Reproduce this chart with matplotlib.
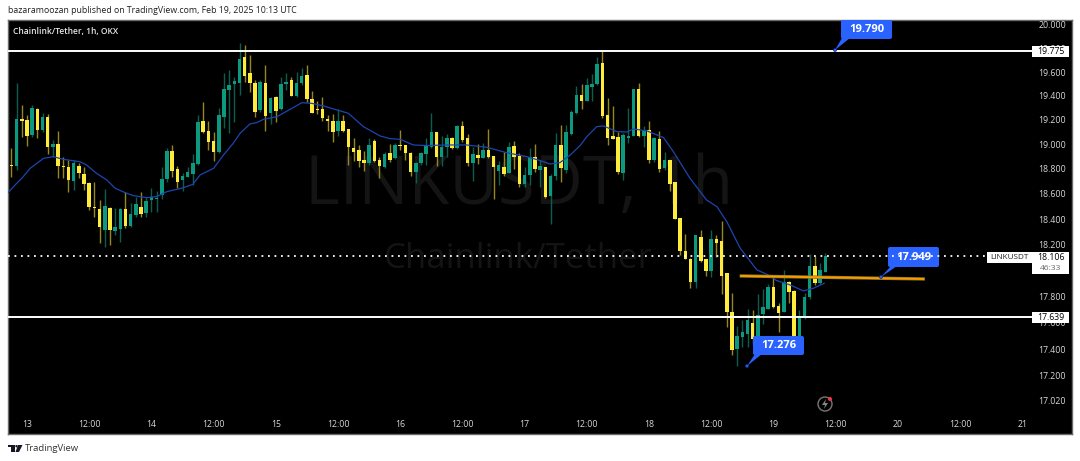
import matplotlib
matplotlib.use('Agg')
import matplotlib.pyplot as plt
from matplotlib.patches import FancyBboxPatch, Polygon, Rectangle, Circle
from matplotlib.transforms import Affine2D, blended_transform_factory

# hourly candles, first one is Feb 12 21:00
# G = up candle, Y = down candle
first_hour = -3
candle_colors = list(
    'YGYYGYGYGYYYGYYYYYGYGGYGGYGGGGGYYGGGGYYYGGGGGYYYGYGYGGYG'
    'GYYYYYYGYYYYYGYYGYGYYYGGGGYGGYGYYGYGYYGYGYYGGYGYGGYGGG'
    'YGGGYYYYGGGYGYGYGYYYYYGYYGYYYYGGGYGGGYYGYYGGGYGG'
)
highs = [18.968,19.505,19.324,19.241,19.324,19.296,19.260,19.249,19.036,19.110,18.900,18.873,18.873,18.846,18.819,18.698,18.698,18.551,18.636,18.492,18.485,18.485,18.618,18.524,18.578,18.618,18.578,18.650,18.623,18.819,18.968,18.995,18.827,18.771,18.819,18.921,19.241,19.346,19.192,19.104,19.296,19.589,19.617,19.561,19.843,19.829,19.744,19.533,19.533,19.659,19.393,19.401,19.555,19.595,19.561,19.598,
         19.637,19.659,19.441,19.360,19.387,19.241,19.249,19.288,19.241,19.123,19.049,18.995,18.949,19.049,19.041,18.895,18.940,19.000,19.009,19.118,18.995,18.940,18.859,18.940,19.049,19.255,19.099,19.071,19.085,19.058,19.159,19.192,19.082,18.981,19.003,19.009,19.126,18.905,18.868,18.940,19.022,19.028,18.927,18.819,18.968,19.003,18.873,18.819,18.760,19.096,19.159,19.159,19.283,19.483,
         19.499,19.547,19.581,19.730,19.786,19.379,19.316,19.104,19.090,19.302,19.455,19.505,19.151,19.194,19.063,19.110,18.940,18.873,18.698,18.406,18.282,18.092,18.274,18.314,18.087,18.314,18.274,18.387,17.981,17.822,17.573,17.619,17.703,17.695,17.817,17.858,17.894,17.937,17.746,18.002,17.917,17.847,17.695,17.827,18.123,18.113,18.053,18.131]
body_tops = [18.832,19.208,19.208,19.197,19.296,19.290,19.222,19.227,19.003,19.003,18.827,18.819,18.846,18.824,18.760,18.690,18.495,18.482,18.500,18.487,18.335,18.482,18.482,18.440,18.519,18.495,18.543,18.573,18.570,18.717,18.946,18.949,18.800,18.744,18.773,18.846,19.186,19.192,19.110,19.031,19.241,19.457,19.491,19.525,19.707,19.727,19.595,19.505,19.519,19.511,19.379,19.390,19.496,19.519,19.533,19.505,
             19.567,19.575,19.376,19.290,19.290,19.208,19.194,19.192,19.192,19.123,18.971,18.952,18.870,18.998,19.025,18.873,18.924,18.930,18.995,18.995,18.992,18.932,18.851,18.930,18.998,19.099,19.099,18.981,19.055,19.049,19.151,19.151,19.049,18.919,18.913,18.954,18.954,18.905,18.832,18.816,18.981,18.987,18.908,18.749,18.900,18.900,18.824,18.816,18.744,18.992,18.995,19.104,19.269,19.404,
             19.407,19.491,19.496,19.668,19.673,19.241,19.066,19.061,19.077,19.071,19.455,19.455,19.110,19.115,19.049,19.044,18.870,18.870,18.698,18.406,18.150,18.087,18.274,18.258,18.087,18.243,18.243,18.230,17.981,17.680,17.498,17.528,17.619,17.599,17.655,17.720,17.871,17.871,17.725,17.912,17.912,17.842,17.644,17.794,18.032,18.032,18.002,18.106]
body_bottoms = [18.827,18.827,19.192,19.072,19.077,19.118,19.118,18.976,18.976,18.821,18.819,18.711,18.703,18.765,18.679,18.498,18.490,18.335,18.316,18.314,18.306,18.324,18.345,18.345,18.432,18.440,18.450,18.551,18.559,18.591,18.717,18.784,18.698,18.711,18.738,18.760,18.838,19.104,19.017,18.940,18.940,19.227,19.449,19.499,19.511,19.567,19.505,19.269,19.283,19.233,19.255,19.277,19.290,19.499,19.401,19.398,
                19.505,19.371,19.260,19.283,19.216,19.194,19.104,19.110,19.110,18.976,18.938,18.865,18.851,18.851,18.865,18.824,18.816,18.876,18.889,18.990,18.930,18.779,18.779,18.846,18.924,18.981,18.897,18.897,18.979,18.968,18.971,19.039,18.851,18.846,18.889,18.889,18.895,18.819,18.784,18.760,18.765,18.900,18.682,18.682,18.749,18.797,18.792,18.578,18.586,18.744,18.808,18.792,19.085,19.255,
                19.354,19.360,19.477,19.496,19.233,19.055,19.047,18.773,18.771,19.049,19.071,19.069,19.071,18.870,18.870,18.800,18.805,18.679,18.400,18.150,18.090,17.907,17.907,18.074,17.994,17.994,18.214,17.955,17.682,17.391,17.401,17.491,17.513,17.474,17.489,17.667,17.703,17.718,17.675,17.682,17.832,17.456,17.456,17.649,17.791,17.904,17.899,17.989]
lows = [18.733,18.792,19.063,18.990,19.063,19.055,19.104,18.921,18.900,18.725,18.725,18.618,18.631,18.725,18.631,18.472,18.419,18.209,18.183,18.196,18.274,18.222,18.327,18.340,18.419,18.419,18.419,18.458,18.453,18.559,18.698,18.738,18.645,18.626,18.733,18.671,18.832,19.090,18.954,18.865,18.927,19.137,19.096,19.186,19.407,19.519,19.429,19.227,19.269,19.112,19.164,19.186,19.283,19.449,19.398,19.387,
        19.491,19.351,19.255,19.249,19.194,19.112,19.017,19.071,19.104,18.832,18.868,18.819,18.787,18.832,18.859,18.730,18.811,18.859,18.878,18.954,18.873,18.746,18.690,18.832,18.832,18.968,18.824,18.824,18.900,18.962,18.962,19.022,18.824,18.706,18.840,18.886,18.886,18.556,18.671,18.746,18.765,18.800,18.653,18.653,18.671,18.779,18.653,18.570,18.361,18.711,18.698,18.765,19.077,19.249,
        19.290,19.360,19.357,19.491,19.213,18.995,19.044,18.760,18.711,19.009,19.069,19.063,18.976,18.846,18.859,18.773,18.792,18.626,18.398,18.118,18.085,17.860,17.865,18.066,17.955,17.950,18.105,17.817,17.568,17.356,17.276,17.414,17.414,17.438,17.481,17.589,17.700,17.713,17.531,17.677,17.751,17.451,17.443,17.624,17.776,17.886,17.894,17.989]

# EMA-looking line, read at hours since Feb 13 00:00
ma_hours = [-3.6,-2.3,-1.0,0.6,1.9,3.2,5.1,7.0,10.2,11.5,13.4,15.4,17.0,18.9,20.5,23.1,25.0,27.0,29.8,32.0,33.4,36.0,37.9,39.8,41.1,43.0,44.3,45.6,48.2,51.1,53.0,54.9,57.2,59.8,62.0,64.9,68.1,70.0,72.0,74.5,77.1,81.0,84.8,88.7,92.5,96.4,99.0,100.9,102.8,104.8,106.7,108.0,109.9,111.2,113.8,115.7,117.0,119.6,122.8,124.7,127.9,131.1,133.1,135.0,137.6,140.8,143.0,144.6,147.2,149.8,151.7,153.8]
ma_values = [18.612,18.671,18.725,18.805,18.846,18.886,18.900,18.878,18.859,18.832,18.765,18.711,18.645,18.610,18.586,18.570,18.578,18.618,18.645,18.676,18.752,18.805,18.913,19.009,19.090,19.167,19.178,19.205,19.227,19.296,19.343,19.338,19.316,19.283,19.255,19.145,19.069,19.047,19.041,18.995,18.990,18.995,18.995,18.976,18.932,18.900,18.868,18.840,18.851,18.913,18.990,19.063,19.145,19.151,19.104,19.101,19.126,19.110,19.055,18.940,18.725,18.551,18.498,18.379,18.170,18.002,17.963,17.920,17.886,17.840,17.860,17.899]

# axis labels
price_ticks = [20.0,19.8,19.6,19.4,19.2,19.0,18.8,18.6,18.4,18.2,17.8,17.6,17.4,17.2,17.02]
price_labels = ['20.000','19.800','19.600','19.400','19.200','19.000','18.800','18.600','18.400','18.200','17.800','17.600','17.400','17.200','17.020']
time_ticks = [0,12,24,36,48,60,72,84,96,108,120,132,144,156,168,180,192]
time_labels = ['13','12:00','14','12:00','15','12:00','16','12:00','17','12:00','18','12:00','19','12:00','20','12:00','21']

# drawing tools
levels = [19.775, 17.639]
last_price = 18.106
trend_hours = [137.8, 172.9]
trend_prices = [17.955, 17.932]

UP = '#0b9a80'
DOWN = '#ffeb3b'
UP_WICK = '#0a5e50'
DOWN_WICK = '#96861f'
BLUE = '#2962ff'

fig = plt.figure(figsize=(10.8, 4.61), dpi=100, facecolor='white')
plt.rcParams['font.family'] = ['Open Sans', 'DejaVu Sans']
ax = fig.add_axes([8/1080, 1-434/461, (1072-8)/1080, (434-20)/461])
ax.set_facecolor('black')
ax.set_axisbelow(False)
for s in ax.spines.values():
    s.set_color('#6a6a6a')
    s.set_linewidth(1)

# pixel positions for the overlay stuff, y counted from the top
pix = Affine2D().scale(1, -1).translate(0, 461)

ax.text(519, 186, 'LINKUSDT, 1h', transform=pix, color='#141414', fontsize=48,
        ha='center', va='center', zorder=1)
ax.text(518, 259, 'Chainlink/Tether', transform=pix, color='#141414', fontsize=25,
        ha='center', va='center', zorder=1)

times = [first_hour + i for i in range(len(highs))]
for t, col, h, top, bot, lo in zip(times, candle_colors, highs, body_tops, body_bottoms, lows):
    body = UP if col == 'G' else DOWN
    wick = UP_WICK if col == 'G' else DOWN_WICK
    ax.vlines(t, lo, h, color=wick, lw=1, zorder=3)
    ax.bar(t, top - bot, bottom=bot, width=0.68, color=body, linewidth=0, zorder=4)

ax.plot(ma_hours, ma_values, color='#1c45b0', lw=0.9, zorder=5)

ax.set_yscale('log')
ax.set_ylim(16.776, 20.043)
ax.set_xlim(-3.666, 201.6)
ax.set_yticks(price_ticks, price_labels)
ax.minorticks_off()
ax.set_xticks(time_ticks, time_labels)
ax.yaxis.tick_right()
ax.tick_params(axis='y', length=0, pad=-24, labelsize=6.3, labelcolor='#d8d8d8')
ax.tick_params(axis='x', length=0, pad=-10, labelsize=6.3, labelcolor='#d8d8d8')

# horizontal levels stop at the price scale
to_right = blended_transform_factory(pix, ax.transData)
for lv in levels:
    ax.plot([8, 1032], [lv, lv], transform=to_right, color='white', lw=1.4, zorder=6)
    y_px = 461 - ax.transData.transform((0, lv))[1]
    ax.add_patch(Rectangle((1032, y_px - 5.5), 37, 11, transform=pix, fc='white', ec='none', zorder=9))
    ax.text(1050.5, lv, f'{lv:.3f}', transform=to_right, color='black', fontsize=6.3,
            ha='center', va='center', zorder=10)

ax.plot(trend_hours, trend_prices, color='#7f7a20', lw=2.4, zorder=6)
ax.plot(trend_hours, trend_prices, color='#ff9800', lw=1.4, zorder=6)


def callout(x0, y0, x1, y1, tipx, tipy, root0, root1, label):
    ax.add_patch(FancyBboxPatch((x0+2, y0+2), x1-x0-4, y1-y0-4, boxstyle='round,pad=2',
                                transform=pix, fc=BLUE, ec='none', zorder=8, clip_on=False))
    ax.add_patch(Polygon([root0, root1, (tipx, tipy)], closed=True, transform=pix,
                         fc=BLUE, ec='none', zorder=8))
    ax.add_patch(Circle((tipx, tipy), 1.5, transform=pix, fc=BLUE, ec='#0c2a80', lw=0.5, zorder=8))
    ax.text((x0+x1)/2, (y0+y1)/2, label, transform=pix, color='white', fontsize=8,
            fontweight='bold', ha='center', va='center', zorder=10)


callout(841, 20, 892, 39, 835, 50, (842, 38), (850, 38), '19.790')
callout(888, 247, 939, 267, 881, 277, (891, 266), (897, 266), '17.949')
callout(753, 336, 804, 355, 747, 366, (755, 354), (762, 354), '17.276')

# last price line goes over the callout
ax.plot([8, 987], [last_price, last_price], transform=to_right, color='white', lw=1.3,
        ls=(0, (1, 2.6)), zorder=11)
ax.add_patch(Rectangle((987, 252), 45, 11, transform=pix, fc='white', ec='none', zorder=9))
ax.text(1009.5, 257.7, 'LINKUSDT', transform=pix, color='#222222', fontsize=5.9,
        ha='center', va='center', zorder=10)
ax.add_patch(Rectangle((1032, 252), 37, 22, transform=pix, fc='white', ec='none', zorder=9))
ax.text(1050.5, 257.5, '18.106', transform=pix, color='black', fontsize=6.3,
        ha='center', va='center', zorder=10)
ax.text(1050.5, 268, '46:33', transform=pix, color='#666666', fontsize=6,
        ha='center', va='center', zorder=10)

# flash icon
ax.add_patch(Circle((825, 404), 7, transform=pix, fc='black', ec='#777777', lw=1, zorder=5))
ax.add_patch(Polygon([(826, 399), (822, 405), (825, 405), (824, 409), (828, 403), (825, 403)],
                     closed=True, transform=pix, fc='#888888', ec='none', zorder=6))
ax.add_patch(Circle((830, 399), 2, transform=pix, fc='#f23645', ec='none', zorder=7))

# header and footer live on the figure
ax.text(8, 10, 'bazaramoozan published on TradingView.com, Feb 19, 2025 10:13 UTC', transform=pix,
        color='#1f1f1f', fontsize=6.27, ha='left', va='center', clip_on=False)
ax.text(13, 31, 'Chainlink/Tether, 1h, OKX', transform=pix, color='#e8e8e8', fontsize=6.1,
        fontweight='semibold', ha='left', va='center')
ax.text(25, 448, 'TradingView', transform=pix, color='#333333', fontsize=6.8,
        ha='left', va='center', clip_on=False)
logo_kw = dict(transform=pix, fc='#131722', ec='none', clip_on=False)
ax.add_patch(Rectangle((8, 445), 6.5, 2.2, **logo_kw))
ax.add_patch(Rectangle((11, 445), 3.5, 7, **logo_kw))
ax.add_patch(Circle((16.5, 446.2), 1.2, **logo_kw))
ax.add_patch(Polygon([(18, 445), (22.5, 445), (19, 452), (15.5, 452)], closed=True, **logo_kw))

fig.savefig('out.png', dpi=100, facecolor='white')
